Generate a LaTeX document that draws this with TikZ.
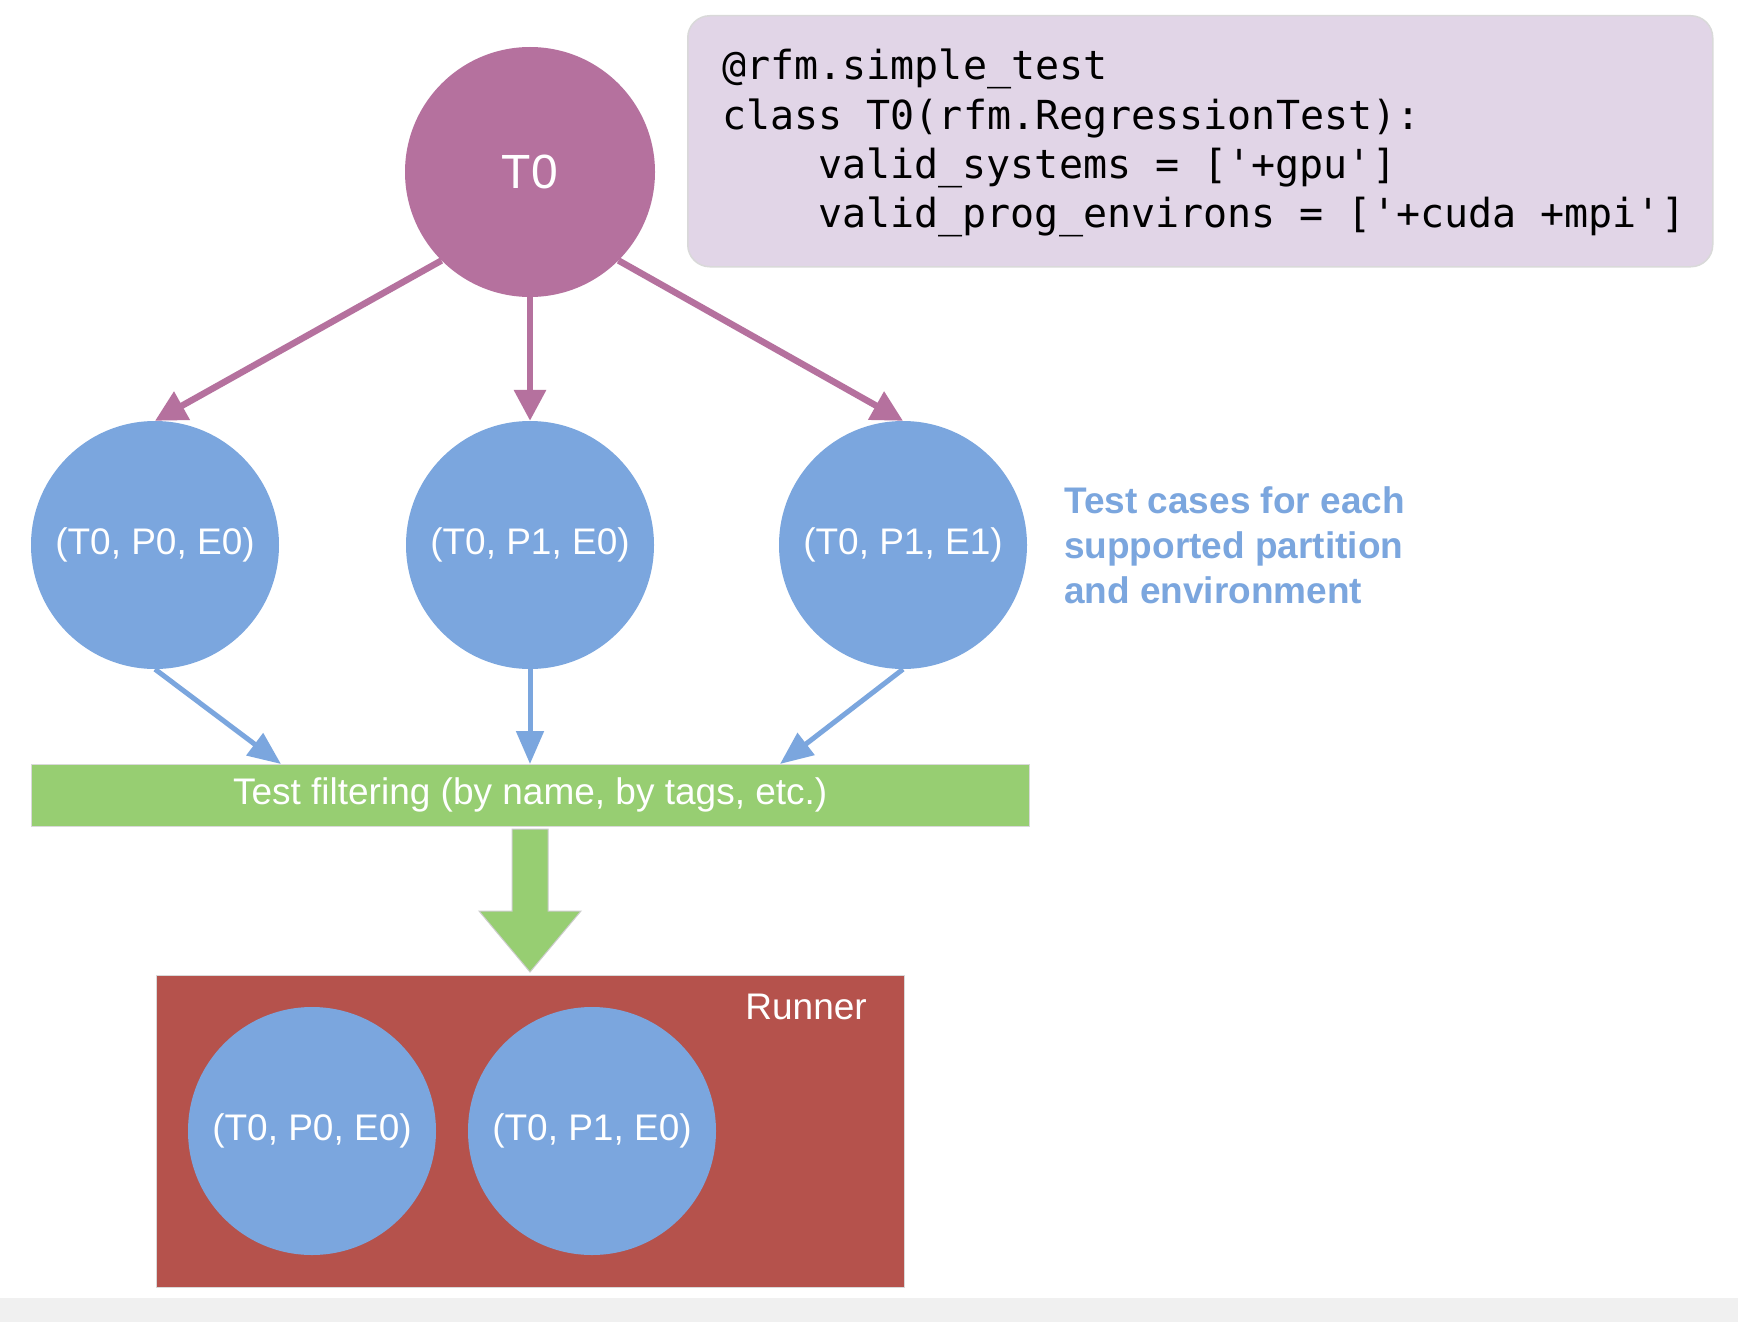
\documentclass[tikz,border=0pt]{standalone}
\usepackage{fontspec}
\setmainfont{Liberation Sans}
\setmonofont{DejaVu Sans Mono}
\usetikzlibrary{arrows.meta,calc}
\definecolor{tpurple}{HTML}{B5719E}
\definecolor{cblue}{HTML}{7BA6DE}
\definecolor{fgreen}{HTML}{97CE72}
\definecolor{rred}{HTML}{B5524C}
\definecolor{codebg}{HTML}{E1D5E7}
\begin{document}
\begin{tikzpicture}[x=1pt,y=-1pt,
  circ/.style={circle, minimum size=248pt, inner sep=0pt, fill=cblue, text=white, font=\fontsize{37}{44}\selectfont},
  parr/.style={draw=tpurple, line width=6.5pt, -{Triangle[length=31pt,width=31pt]}},
  barr/.style={draw=cblue, line width=5pt, -{Triangle[length=33pt,width=27pt]}},
  codeline/.style={anchor=base west, inner sep=0pt, font=\ttfamily\fontsize{40}{49}\selectfont}
]
\useasboundingbox[fill=white] (0,0) rectangle (1738,1322);
\fill[black!6] (0,1298) rectangle (1738,1322);

% code box
\node (code) [draw=black!15, line width=1.5pt, fill=codebg, rounded corners=22pt,
  minimum width=1025pt, minimum height=251pt, anchor=north west, inner sep=0pt] at (687,15) {};
\node (code1) [codeline] at (722,80) {@rfm.simple\_test};
\node (code2) [codeline] at (722,129) {class T0(rfm.RegressionTest):};
\node (code3) [codeline] at (818,178) {valid\_systems = ['+gpu']};
\node (code4) [codeline] at (818,227) {valid\_prog\_environs = ['+cuda +mpi']};

% T0
\node (t0) [circle, minimum size=250pt, inner sep=0pt, fill=tpurple, text=white,
  font=\fontsize{48}{56}\selectfont] at (530,172) {T0};

% test cases
\node (c1) [circ] at (155,545) {(T0, P0, E0)};
\node (c2) [circ] at (530,545) {(T0, P1, E0)};
\node (c3) [circ] at (903,545) {(T0, P1, E1)};

\node (note) [anchor=west, align=left, inner sep=0pt, text=cblue,
  font=\bfseries\fontsize{37}{45}\selectfont] at (1064,545)
  {Test cases for each\\supported partition\\and environment};

\draw[parr] (t0.-135) -- (c1.north);
\draw[parr] (t0.south) -- (c2.north);
\draw[parr] (t0.-45) -- (c3.north);

% filter bar
\node (filter) [fill=fgreen, draw=black!15, minimum width=998pt, minimum height=62pt,
  inner sep=0pt, anchor=north west, text=white, font=\fontsize{37}{44}\selectfont]
  at (31,764) {Test filtering (by name, by tags, etc.)};

\coordinate (f1) at (281,764);
\coordinate (f3) at (780,764);
\draw[barr] (c1.south) -- (f1);
\draw[barr] (c2.south) -- (c2.south |- filter.north);
\draw[barr] (c3.south) -- (f3);

% runner
\node (runner) [fill=rred, draw=black!15, minimum width=748pt, minimum height=312pt,
  inner sep=0pt, anchor=north west] at (156,975) {};
\node (rlabel) [anchor=east, text=white, inner sep=0pt, font=\fontsize{37}{44}\selectfont]
  at (867,1007) {Runner};
\node (r1) [circ] at (312,1131) {(T0, P0, E0)};
\node (r2) [circ] at (592,1131) {(T0, P1, E0)};

% big green arrow
\filldraw[fill=fgreen, draw=black!20, line width=1pt]
  (512,829) -- (548,829) -- (548,911) -- (581,911) -- (530,972) -- (479,911) -- (512,911) -- cycle;
\end{tikzpicture}
\end{document}
